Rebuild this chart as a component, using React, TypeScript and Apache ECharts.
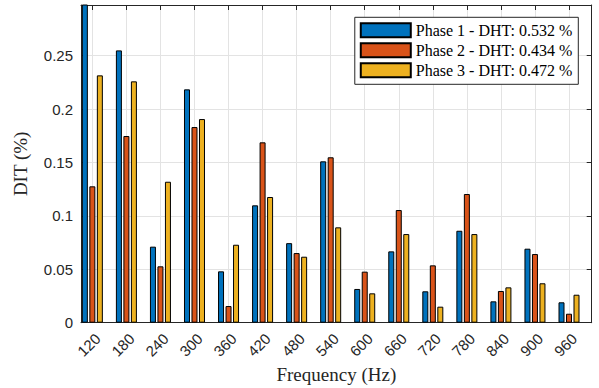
import React, { useEffect, useRef } from "react";
import * as echarts from "echarts";

// Harmonic frequencies (Hz)
const frequencies = [120, 180, 240, 300, 360, 420, 480, 540, 600, 660, 720, 780, 840, 900, 960];

// Individual harmonic distortion per phase (%)
const phase1 = [0.31, 0.255, 0.0712, 0.2185, 0.0481, 0.1099, 0.0745, 0.1511, 0.0316, 0.0668, 0.0294, 0.0861, 0.02, 0.0693, 0.0191];
const phase2 = [0.1277, 0.1748, 0.0528, 0.1832, 0.0156, 0.1689, 0.0652, 0.1549, 0.0478, 0.1055, 0.0537, 0.1205, 0.0297, 0.0643, 0.0084];
const phase3 = [0.2316, 0.226, 0.132, 0.1907, 0.073, 0.1177, 0.0618, 0.0893, 0.0275, 0.083, 0.015, 0.083, 0.0331, 0.0369, 0.0262];

const phaseNames = ["Phase 1", "Phase 2", "Phase 3"];
const totalDistortion = ["0.532", "0.434", "0.472"];
const phaseColors = ["#0072BD", "#D95319", "#EDB120"];

const AXIS_COLOR = "#262626";
const GRID_COLOR = "#e3e3e3";
const SANS = "Liberation Sans, Arial, sans-serif";
const SERIF = "Liberation Serif, Times New Roman, serif";

export default function App() {
  const ref = useRef<HTMLDivElement>(null);

  useEffect(() => {
    document.body.style.margin = "0";
    if (!ref.current) return;
    const chart = echarts.init(ref.current, undefined, { renderer: "svg" });

    const seriesValues = [phase1, phase2, phase3];
    const series = seriesValues.map((vals, i) => ({
      type: "bar" as const,
      name: `${phaseNames[i]} - DHT: ${totalDistortion[i]} %`,
      data: frequencies.map((f, j) => [f, vals[j]]),
      xAxisIndex: 0,
      yAxisIndex: 0,
      barWidth: 6,
      barGap: "25%",
      clip: true,
      itemStyle: { color: phaseColors[i], borderColor: "#000", borderWidth: 1 },
    }));

    const tickCommon = { show: true, inside: true, length: 5, lineStyle: { color: AXIS_COLOR, width: 1 } };
    const lineCommon = { show: true, onZero: false, lineStyle: { color: AXIS_COLOR, width: 1 } };

    chart.setOption({
      animation: false,
      grid: { left: 81, right: 7.3, top: 5, bottom: 65.3, outerBoundsMode: "none", containLabel: false },
      legend: {
        orient: "vertical",
        right: 20.7,
        top: 17.3,
        itemWidth: 50,
        itemHeight: 14,
        itemGap: 4,
        padding: [5, 6, 6, 5],
        borderColor: AXIS_COLOR,
        borderWidth: 1,
        backgroundColor: "#fff",
        icon: "rect",
        textStyle: { fontFamily: SERIF, fontSize: 16, color: "#000", lineHeight: 14 },
      },
      xAxis: [
        {
          type: "value",
          position: "bottom",
          min: 100,
          max: 1000,
          axisLine: lineCommon,
          axisTick: { ...tickCommon, customValues: frequencies },
          axisLabel: {
            customValues: frequencies,
            rotate: 45,
            fontSize: 15,
            fontFamily: SANS,
            color: AXIS_COLOR,
            margin: 8,
            // top-anchored rotated labels hang below and right of their ticks
            verticalAlign: "top",
          },
          splitLine: { show: true, lineStyle: { color: GRID_COLOR, width: 1 } },
          name: "Frequency (Hz)",
          nameLocation: "middle",
          nameGap: 42,
          nameMoveOverlap: false,
          nameTextStyle: { fontFamily: SERIF, fontSize: 19, color: AXIS_COLOR },
        },
        {
          type: "value",
          position: "top",
          min: 100,
          max: 1000,
          axisLine: lineCommon,
          axisTick: { ...tickCommon, customValues: frequencies },
          axisLabel: { show: false },
          splitLine: { show: false },
        },
      ],
      yAxis: [
        {
          type: "value",
          position: "left",
          min: 0,
          max: 0.2975,
          interval: 0.05,
          axisLine: lineCommon,
          axisTick: tickCommon,
          axisLabel: { fontSize: 15, fontFamily: SANS, color: AXIS_COLOR, margin: 8, showMaxLabel: false },
          splitLine: { show: true, lineStyle: { color: GRID_COLOR, width: 1 } },
          name: "DIT (%)",
          nameLocation: "middle",
          nameGap: 51,
          nameMoveOverlap: false,
          nameTextStyle: { fontFamily: SERIF, fontSize: 19, color: AXIS_COLOR },
        },
        {
          type: "value",
          position: "right",
          min: 0,
          max: 0.2975,
          interval: 0.05,
          axisLine: lineCommon,
          axisTick: tickCommon,
          axisLabel: { show: false },
          splitLine: { show: false },
        },
      ],
      series,
    });

    return () => chart.dispose();
  }, []);

  return <div ref={ref} style={{ width: 599, height: 388 }} />;
}
